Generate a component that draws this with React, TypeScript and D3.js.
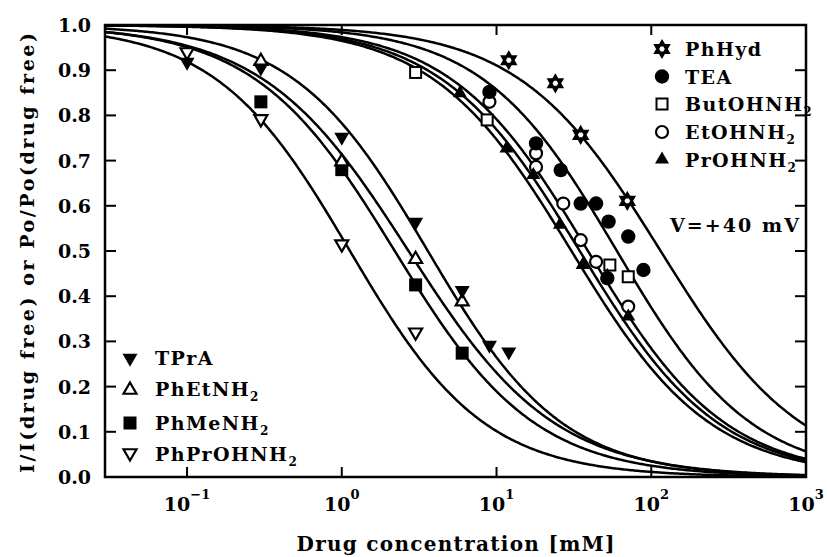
import React from "react";
import * as d3 from "d3";

const tpraX = [0.1, 0.3, 1, 3, 6, 9, 12];
const tpraY = [0.918, 0.905, 0.752, 0.564, 0.413, 0.292, 0.277];
const phEtX = [0.3, 1, 3, 6];
const phEtY = [0.922, 0.70, 0.484, 0.39];
const phMeX = [0.3, 1, 3, 6];
const phMeY = [0.83, 0.68, 0.425, 0.274];
const phPrX = [0.1, 0.3, 1, 3];
const phPrY = [0.938, 0.79, 0.513, 0.318];
const phHydX = [12, 24, 35, 70];
const phHydY = [0.922, 0.871, 0.757, 0.611];
const teaX = [9, 18, 26, 35, 44, 52, 53, 71, 89];
const teaY = [0.852, 0.738, 0.679, 0.605, 0.605, 0.44, 0.565, 0.532, 0.458];
const butX = [3, 8.7, 54, 71];
const butY = [0.895, 0.79, 0.469, 0.443];
const etX = [9, 18, 18, 27, 35, 44, 71];
const etY = [0.83, 0.716, 0.686, 0.605, 0.524, 0.476, 0.377];
const prX = [5.8, 11.6, 17.3, 25.7, 36, 52, 71];
const prY = [0.849, 0.727, 0.668, 0.558, 0.469, 0.445, 0.355];

// fitted dose-response curves: y = 1 / (1 + (x/K)^n)
const fitK = [3.6, 2.7, 2.2, 1.13, 115, 60, 39, 34.5, 30.5];
const fitN = [1.0, 0.92, 0.96, 1.0, 0.95, 1.0, 0.98, 0.97, 0.97];

const yTicks = [0, 0.1, 0.2, 0.3, 0.4, 0.5, 0.6, 0.7, 0.8, 0.9, 1.0];
const xTickExp = [-1, 0, 1, 2, 3];

const FONT = "'DejaVu Serif', 'Liberation Serif', serif";

const W = 827, H = 557;
const left = 105, right = 806, top = 25, bottom = 477;

const x = d3.scaleLog().domain([0.0295, 1000]).range([left, right]);
const y = d3.scaleLinear().domain([0, 1]).range([bottom, top]);

function triPath(s: number, down: boolean) {
  const h = s * 0.866;
  const a = down ? -1 : 1;
  return `M0,${-a * h * 2 / 3}L${s / 2},${a * h / 3}L${-s / 2},${a * h / 3}Z`;
}

// hexagram outline (two overlapping triangles)
function starPath(r: number) {
  const p = (ang: number) => [r * Math.sin(ang), -r * Math.cos(ang)];
  const pts1 = [0, 1, 2].map(i => p(i * 2 * Math.PI / 3));
  const pts2 = [0, 1, 2].map(i => p(Math.PI + i * 2 * Math.PI / 3));
  const tri = (pts: number[][]) => `M${pts[0][0]},${pts[0][1]}L${pts[1][0]},${pts[1][1]}L${pts[2][0]},${pts[2][1]}Z`;
  return tri(pts1) + tri(pts2);
}

type Kind = "tdown" | "tup" | "tupO" | "sq" | "tdownO" | "star" | "dot" | "sqO" | "circO";

function Marker({ kind, cx, cy }: { kind: Kind; cx: number; cy: number }) {
  const tr = `translate(${cx},${cy})`;
  switch (kind) {
    case "tdown":
      return <path transform={tr} d={triPath(15, true)} fill="#000" />;
    case "tup":
      return <path transform={tr} d={triPath(14, false)} fill="#000" />;
    case "tupO":
      return <path transform={`translate(${cx},${cy + 1})`} d={triPath(13, false)} fill="#fff" stroke="#000" strokeWidth={2.2} />;
    case "tdownO":
      return <path transform={`translate(${cx},${cy - 1})`} d={triPath(13, true)} fill="#fff" stroke="#000" strokeWidth={2.2} />;
    case "sq":
      return <rect x={cx - 6.5} y={cy - 6.5} width={13} height={13} fill="#000" />;
    case "sqO":
      return <rect x={cx - 5.5} y={cy - 5.5} width={11} height={11} fill="#fff" stroke="#000" strokeWidth={2} />;
    case "dot":
      return <circle cx={cx} cy={cy} r={7.2} fill="#000" />;
    case "circO":
      return <circle cx={cx} cy={cy} r={6} fill="#fff" stroke="#000" strokeWidth={2.2} />;
    case "star":
      return <path transform={tr} d={starPath(7.5)} fill="#fff" stroke="#000" strokeWidth={2.6} strokeLinejoin="miter" />;
  }
  return null;
}

const series: { xs: number[]; ys: number[]; kind: Kind }[] = [
  { xs: phHydX, ys: phHydY, kind: "star" },
  { xs: butX, ys: butY, kind: "sqO" },
  { xs: etX, ys: etY, kind: "circO" },
  { xs: teaX, ys: teaY, kind: "dot" },
  { xs: prX, ys: prY, kind: "tup" },
  { xs: phPrX, ys: phPrY, kind: "tdownO" },
  { xs: phMeX, ys: phMeY, kind: "sq" },
  { xs: phEtX, ys: phEtY, kind: "tupO" },
  { xs: tpraX, ys: tpraY, kind: "tdown" },
];

export default function App() {
  const [lo, hi] = x.domain().map(Math.log10);
  const grid = d3.range(0, 401).map(i => Math.pow(10, lo + (hi - lo) * i / 400));
  const line = d3.line<number[]>().x(d => x(d[0])).y(d => y(d[1]));
  const curves = fitK.map((K, i) =>
    line(grid.map(v => [v, 1 / (1 + Math.pow(v / K, fitN[i]))]))
  );

  const rightLegend: { kind: Kind; label: string; sub?: string }[] = [
    { kind: "star", label: "PhHyd" },
    { kind: "dot", label: "TEA" },
    { kind: "sqO", label: "ButOHNH", sub: "2" },
    { kind: "circO", label: "EtOHNH", sub: "2" },
    { kind: "tup", label: "PrOHNH", sub: "2" },
  ];
  const rightLegendY = [49, 76.5, 104, 132, 159.5];
  const leftLegend: { kind: Kind; label: string; sub?: string }[] = [
    { kind: "tdown", label: "TPrA" },
    { kind: "tupO", label: "PhEtNH", sub: "2" },
    { kind: "sq", label: "PhMeNH", sub: "2" },
    { kind: "tdownO", label: "PhPrOHNH", sub: "2" },
  ];
  const leftLegendY = [358, 389, 423, 454];

  return (
    <svg width={W} height={H} style={{ position: "absolute", left: 0, top: 0, background: "#fff" }}
      fontFamily={FONT} fontWeight="bold">
      <defs>
        <clipPath id="plot">
          <rect x={left} y={top} width={right - left} height={bottom - top} />
        </clipPath>
      </defs>
      <rect width={W} height={H} fill="#fff" />

      <g clipPath="url(#plot)" fill="none" stroke="#000" strokeWidth={2.5}>
        {curves.map((d, i) => <path key={i} d={d ?? ""} />)}
      </g>

      {series.map((s, si) => (
        <g key={si}>
          {s.xs.map((v, i) => <Marker key={i} kind={s.kind} cx={x(v)} cy={y(s.ys[i])} />)}
        </g>
      ))}

      <rect x={left} y={top} width={right - left} height={bottom - top} fill="none" stroke="#000" strokeWidth={2.5} />

      <g stroke="#000" strokeWidth={2}>
        {xTickExp.slice(0, -1).map(e => (
          <g key={e}>
            <line x1={x(Math.pow(10, e))} x2={x(Math.pow(10, e))} y1={bottom} y2={bottom - 10} />
            <line x1={x(Math.pow(10, e))} x2={x(Math.pow(10, e))} y1={top} y2={top + 10} />
          </g>
        ))}
        {yTicks.slice(1, -1).map(t => (
          <g key={t}>
            <line x1={left} x2={left + 11} y1={y(t)} y2={y(t)} />
            <line x1={right} x2={right - 11} y1={y(t)} y2={y(t)} />
          </g>
        ))}
      </g>

      <g fontSize={19} textAnchor="end">
        {yTicks.map(t => (
          <text key={t} x={left - 14} y={y(t) + 7}>{t.toFixed(1)}</text>
        ))}
      </g>
      <g fontSize={19} textAnchor="middle">
        {xTickExp.map(e => (
          <text key={e} x={x(Math.pow(10, e))} y={511}>
            10<tspan fontSize={13} dy={-12}>{e < 0 ? "\u2212" + Math.abs(e) : String(e)}</tspan>
          </text>
        ))}
      </g>

      <text x={(left + right) / 2} y={551} fontSize={20} textAnchor="middle"
        textLength={318} lengthAdjust="spacing">Drug concentration [mM]</text>
      <text transform={`translate(34,${(top + bottom) / 2 + 2}) rotate(-90)`} fontSize={19} textAnchor="middle"
        textLength={440} lengthAdjust="spacing">
        I/I(drug free) or Po/Po(drug free)
      </text>

      <g fontSize={19} letterSpacing={1.4}>
        {rightLegend.map((l, i) => (
          <g key={l.label}>
            <Marker kind={l.kind} cx={662} cy={rightLegendY[i]} />
            <text x={685} y={rightLegendY[i] + 7}>
              {l.label}
              {l.sub && <tspan fontSize={12} dy={5}>{l.sub}</tspan>}
            </text>
          </g>
        ))}
        {leftLegend.map((l, i) => (
          <g key={l.label}>
            <Marker kind={l.kind} cx={130} cy={leftLegendY[i]} />
            <text x={155} y={leftLegendY[i] + 7}>
              {l.label}
              {l.sub && <tspan fontSize={12} dy={5}>{l.sub}</tspan>}
            </text>
          </g>
        ))}
      </g>
      <text x={670} y={232} fontSize={19} textLength={129} lengthAdjust="spacing" xmlSpace="preserve">V=+40 mV</text>
    </svg>
  );
}
